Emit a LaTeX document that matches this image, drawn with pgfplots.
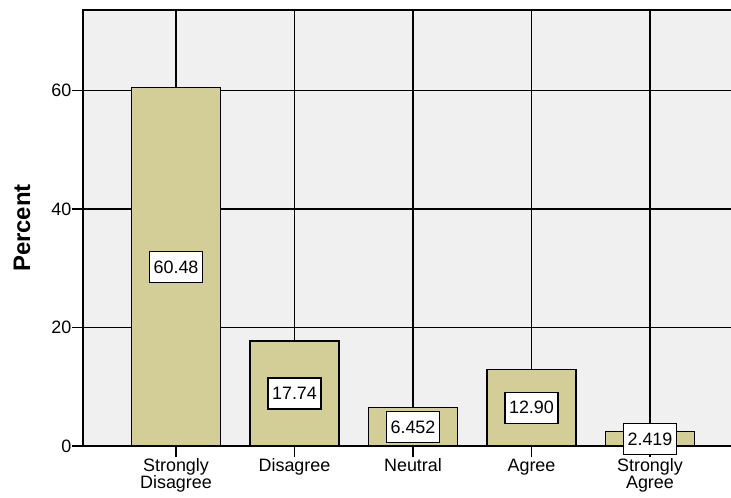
\documentclass[border=0pt]{standalone}
\usepackage{pgfplots}
\pgfplotsset{compat=1.18}
\usepackage{fontspec}
\setmainfont{Liberation Sans}

\definecolor{barfill}{RGB}{211,206,151}
\definecolor{panel}{RGB}{240,240,240}

\begin{document}
\begin{tikzpicture}
\begin{axis}[
  name=ax,
  scale only axis,
  width=660bp, height=436bp,
  xmin=-0.785, xmax=4.785,
  ymin=0, ymax=73.6,
  xtick={0,1,2,3,4},
  xticklabels={Strongly\\Disagree, Disagree, Neutral, Agree, Strongly\\Agree},
  ytick={0,20,40,60},
  xtick pos=left, ytick pos=left,
  tick align=outside,
  major tick length=10.5bp,
  tick style={black, line width=1.2bp},
  grid=major,
  grid style={black, line width=1.2bp},
  axis line style={black, line width=1.3bp},
  axis background/.style={fill=panel},
  /pgf/number format/assume math mode=true,
  ticklabel style={font=\fontsize{18}{17}\selectfont},
  xticklabel style={align=center, inner ysep=2bp},
  yticklabel style={inner xsep=1bp},
  ylabel={Percent},
  every axis y label/.style={at={(rel axis cs:0,0.5)}, xshift=-61bp,
    rotate=90, anchor=center, font=\fontsize{24}{24}\selectfont\bfseries},
]
% percentage of responses per category
\addplot[ybar, bar width=0.75, fill=barfill, draw=black, line width=1.2bp]
  table[x=x, y=y] {
  x y
  0 60.48
  1 17.74
  2 6.452
  3 12.90
  4 2.419
};
% value labels centred at half bar height
\addplot[draw=none, mark=none,
  nodes near coords, point meta=explicit symbolic,
  every node near coord/.append style={anchor=center, fill=white, draw=black,
    line width=1.2bp, inner xsep=4bp, inner ysep=0pt, minimum height=31bp,
    font=\fontsize{18}{18}\selectfont}]
  table[x=x, y expr=\thisrow{y}/2, meta=label] {
  x y label
  0 60.48 60.48
  1 17.74 17.74
  2 6.452 6.452
  3 12.90 12.90
  4 2.419 2.419
};
\end{axis}
\pgfresetboundingbox
\path ([xshift=-83bp, yshift=-51bp]ax.south west) rectangle ([xshift=648bp, yshift=10bp]ax.north west);
\end{tikzpicture}
\end{document}
